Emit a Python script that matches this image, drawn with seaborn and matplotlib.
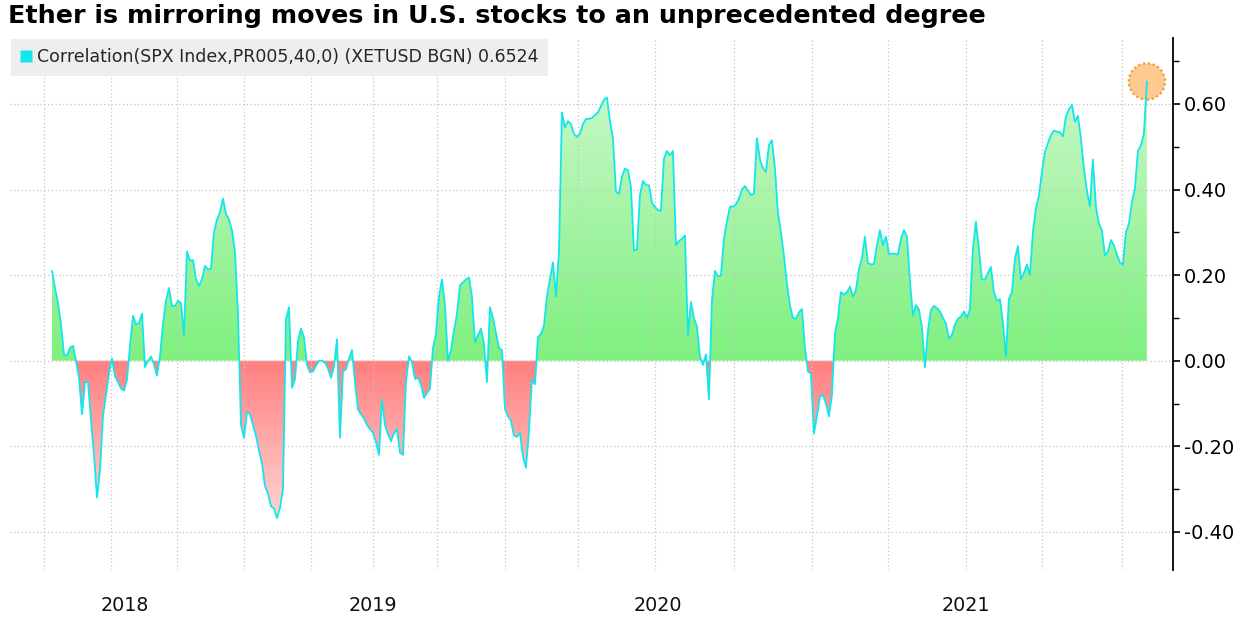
import numpy as np
import matplotlib
matplotlib.use("Agg")
import matplotlib.pyplot as plt
import seaborn as sns
from matplotlib.path import Path
from matplotlib.lines import Line2D
from matplotlib.colors import LinearSegmentedColormap
from matplotlib.ticker import MultipleLocator, FixedLocator

# ---------------- text ----------------
title = "Ether is mirroring moves in U.S. stocks to an unprecedented degree"
series_label = "Correlation(SPX Index,PR005,40,0) (XETUSD BGN) 0.6524"
year_labels = ["2018", "2019", "2020", "2021"]
y_ticks = [0.60, 0.40, 0.20, 0.00, -0.20, -0.40]

# ---------------- data (40-day correlation, consecutive observations) ----------------
corr_part1 = [
    0.21, 0.17, 0.135, 0.085, 0.015, 0.012, 0.03, 0.035, 0.0, -0.04,
    -0.125, -0.05, -0.05, -0.14, -0.22, -0.32, -0.256, -0.13, -0.08, -0.03,
    0.005, -0.036, -0.05, -0.065, -0.07, -0.045, 0.035, 0.105, 0.085, 0.088,
    0.11, -0.015, 0.0, 0.01, -0.008, -0.035, 0.01, 0.085, 0.14, 0.17,
    0.128, 0.128, 0.14, 0.135, 0.06, 0.255, 0.234, 0.235, 0.19, 0.175,
    0.19, 0.222, 0.213, 0.215, 0.30, 0.33, 0.347, 0.379, 0.343, 0.33,
    0.305, 0.254, 0.11,
]
corr_part2 = [
    -0.15, -0.18, -0.12, -0.125, -0.15, -0.176, -0.21, -0.24, -0.293, -0.31,
    -0.34, -0.345, -0.368, -0.344, -0.3, 0.097, 0.125, -0.063, -0.043, 0.045,
    0.075, 0.055, -0.01, -0.027, -0.025, -0.012, 0.0, 0.0, -0.005, -0.018,
    -0.04, -0.015, 0.05, -0.18, -0.025, -0.02, 0.005, 0.025, -0.05, -0.114,
    -0.125, -0.135, -0.15, -0.16, -0.168, -0.19, -0.22, -0.09, -0.15, -0.172,
    -0.188, -0.17, -0.16, -0.215, -0.22, -0.05, 0.01, -0.002, -0.043, -0.04,
    -0.055, -0.087, -0.075,
]
corr_part3 = [
    -0.066, 0.03, 0.0625, 0.15, 0.19, 0.13, 0.0, 0.025, 0.07, 0.11,
    0.176, 0.183, 0.19, 0.194, 0.15, 0.043, 0.06, 0.075, 0.04, -0.05,
    0.125, 0.1, 0.065, 0.03, 0.025, -0.113, -0.13, -0.14, -0.175, -0.178,
    -0.168, -0.225, -0.25, -0.165, -0.045, -0.055, 0.055, 0.063, 0.082, 0.15,
    0.191, 0.23, 0.15, 0.255, 0.58, 0.545, 0.56, 0.553, 0.53, 0.523,
    0.531, 0.553, 0.565, 0.565, 0.567, 0.574, 0.58, 0.595, 0.61, 0.615,
    0.56, 0.52, 0.395, 0.39,
]
corr_part4 = [
    0.43, 0.449, 0.445, 0.405, 0.258, 0.26, 0.387, 0.42, 0.41, 0.41,
    0.37, 0.359, 0.352, 0.35, 0.472, 0.49, 0.48, 0.49, 0.27, 0.28,
    0.285, 0.293, 0.06, 0.137, 0.1, 0.08, 0.01, -0.01, 0.015, -0.09,
    0.14, 0.21, 0.197, 0.199, 0.285, 0.325, 0.36, 0.36, 0.365, 0.379,
    0.4, 0.408, 0.397, 0.387, 0.391, 0.52, 0.47, 0.45, 0.441, 0.504,
    0.515, 0.45, 0.345, 0.3, 0.246, 0.18, 0.13, 0.1, 0.098, 0.113,
    0.121, 0.03, -0.025,
]
corr_part5 = [
    -0.03, -0.17, -0.13, -0.084, -0.08, -0.1, -0.13, -0.08, 0.064, 0.1,
    0.16, 0.155, 0.16, 0.173, 0.15, 0.165, 0.214, 0.24, 0.29, 0.228,
    0.225, 0.226, 0.27, 0.305, 0.27, 0.29, 0.25, 0.25, 0.25, 0.248,
    0.284, 0.305, 0.29, 0.188, 0.105, 0.13, 0.12, 0.08, -0.015, 0.07,
    0.118, 0.128, 0.123, 0.115, 0.1, 0.087, 0.052, 0.06, 0.084, 0.098,
    0.103, 0.115, 0.1, 0.12, 0.26, 0.325, 0.26, 0.19, 0.19, 0.205,
    0.219, 0.16, 0.14,
]
corr_part6 = [
    0.144, 0.09, 0.01, 0.145, 0.16, 0.238, 0.268, 0.19, 0.205, 0.225,
    0.2, 0.3, 0.355, 0.386, 0.44, 0.488, 0.508, 0.527, 0.538, 0.535,
    0.534, 0.524, 0.57, 0.587, 0.598, 0.558, 0.572, 0.52, 0.45, 0.397,
    0.36, 0.47, 0.36, 0.32, 0.305, 0.246, 0.255, 0.282, 0.27, 0.248,
    0.23, 0.224, 0.3, 0.32, 0.37, 0.402, 0.49, 0.503, 0.53, 0.6524,
]

correlation = np.array(corr_part1 + corr_part2 + corr_part3 + corr_part4 + corr_part5 + corr_part6)
obs = np.arange(len(correlation))

# observation index of quarter-start gridlines and of year labels (axis layout)
quarter_grid_obs = [-2.7, 19.6, 41.8, 64.0, 86.2, 106.9, 128.4, 151.0, 175.2,
                    201.0, 227.3, 253.2, 278.6, 304.6, 330.1, 356.6]
year_label_obs = [24.3, 107.0, 202.0, 304.7]

# ---------------- style ----------------
sns.set_theme(style="white")
plt.rcParams['font.family'] = ['DejaVu Sans']

W, H = 1246, 620
fig = plt.figure(figsize=(W / 100, H / 100), dpi=100)
ax = fig.add_axes([10 / W, 50 / H, 1163 / W, 532 / H])

line_color = "#14e6ec"
green_cmap = LinearSegmentedColormap.from_list("g", ["#7ff07f", "#c9f8c9"])
red_cmap = LinearSegmentedColormap.from_list("r", ["#ffd6d6", "#ff7f7f"])

pos = ax.fill_between(obs, 0, correlation, where=correlation >= 0, interpolate=True,
                      facecolor="none", edgecolor="none")
neg = ax.fill_between(obs, 0, correlation, where=correlation <= 0, interpolate=True,
                      facecolor="none", edgecolor="none")

grad = np.linspace(0, 1, 256).reshape(-1, 1)
im_g = ax.imshow(grad, cmap=green_cmap, origin="lower", aspect="auto",
                 extent=[obs[0], obs[-1], 0, 0.65], zorder=1, interpolation="bilinear")
im_g.set_clip_path(Path.make_compound_path(*pos.get_paths()), transform=ax.transData)
im_r = ax.imshow(grad, cmap=red_cmap, origin="lower", aspect="auto",
                 extent=[obs[0], obs[-1], -0.38, 0], zorder=1, interpolation="bilinear")
im_r.set_clip_path(Path.make_compound_path(*neg.get_paths()), transform=ax.transData)

sns.lineplot(x=obs, y=correlation, ax=ax, color=line_color, linewidth=1.3, zorder=3)

# highlight latest value
ax.scatter([obs[-1]], [correlation[-1]], s=680, facecolor="#ffc992", edgecolor="#f0a030",
           linewidths=1.6, linestyle=(0, (1, 1.2)), zorder=2.8)

ax.set_xlim(-14, 373.7)
ax.set_ylim(-0.489, 0.754)

# y axis on right
ax.yaxis.tick_right()
ax.set_yticks(y_ticks)
ax.set_yticklabels([f"{v:.2f}" for v in y_ticks])
ax.yaxis.set_minor_locator(MultipleLocator(0.1))
ax.tick_params(axis="y", which="major", direction="out", length=5, width=1.2,
               colors="black", labelsize=14, pad=3, right=True, left=False)
ax.tick_params(axis="y", which="minor", direction="out", length=4, width=1,
               color="black", right=True, left=False)

# x axis
ax.set_xticks(year_label_obs)
ax.set_xticklabels(year_labels)
ax.xaxis.set_minor_locator(FixedLocator(quarter_grid_obs))
ax.tick_params(axis="x", which="both", length=0, bottom=True)
ax.tick_params(axis="x", which="major", labelsize=13.8, pad=19, colors="#111111")

for s in ["left", "top", "bottom"]:
    ax.spines[s].set_visible(False)
ax.spines["right"].set_visible(True)
ax.spines["right"].set_color("black")
ax.spines["right"].set_linewidth(1.3)

ax.set_axisbelow(False)
ax.grid(False)
ax.grid(axis="y", which="major", linestyle=(0, (1, 2)), color="#c4c4c4", linewidth=0.9)
ax.grid(axis="x", which="minor", linestyle=(0, (1, 2)), color="#c4c4c4", linewidth=0.9)
ax.set_xlabel("")
ax.set_ylabel("")

# legend
handle = Line2D([], [], marker="s", linestyle="none", markerfacecolor=line_color,
                markeredgecolor="none", markersize=8)
leg = ax.legend([handle], [series_label], loc="upper left", bbox_to_anchor=(0, 1),
                borderaxespad=0.05, frameon=True, fancybox=False, framealpha=0.85,
                facecolor="#ececec", edgecolor="none", fontsize=12.5,
                handlelength=0.7, handletextpad=0.25, borderpad=0.55)
leg.set_zorder(5)

fig.text(8 / W, 1 - 16 / H, title, fontsize=18.3, fontweight="bold",
         ha="left", va="center", color="black")

fig.savefig("out.png", dpi=100)
